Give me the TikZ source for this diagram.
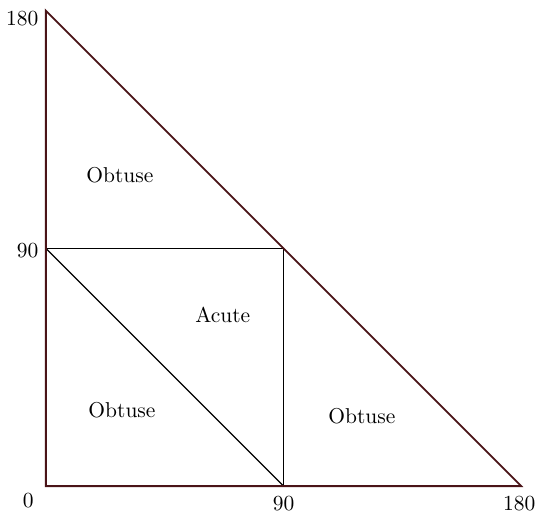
\documentclass[tikz,border=0pt]{standalone}
\usepackage{tikz}
\usetikzlibrary{positioning}
\definecolor{edgeR}{HTML}{4A1418}

\begin{document}
\begin{tikzpicture}[x=1.229pt,y=1.229pt,
  outer/.style={draw=edgeR,line width=0.9pt},
  inner/.style={draw=black,line width=0.6pt},
  lab/.style={font=\normalsize}]
\useasboundingbox (-17.4,-13.3) rectangle (186.0,184.1);
\coordinate (o) at (0,0);
\coordinate (xm) at (90,0);
\coordinate (xe) at (180,0);
\coordinate (ym) at (0,90);
\coordinate (ye) at (0,180);
\coordinate (mid) at (90,90);
% inner lines
\draw[inner] (ym) -- (mid) -- (xm);
\draw[inner] (ym) -- (xm);
% outer triangle
\draw[outer] (o) -- (xe) -- (ye) -- cycle;
% axis labels
\node[lab,left] (t180) at (0,177) {180};
\node[lab,left] (t90) at (0,89) {90};
\node[lab,below left] (t0) at (-1.8,0) {0};
\node[lab,below] (b90) at (90,-1.1) {90};
\node[lab,below] (b180) at (179.3,-0.9) {180};
% regions
\node[lab] (r1) at (28.0,117.8) {Obtuse};
\node[lab] (r2) at (67.0,64.8) {Acute};
\node[lab] (r3) at (28.8,28.8) {Obtuse};
\node[lab] (r4) at (119.7,26.5) {Obtuse};
\end{tikzpicture}
\end{document}
